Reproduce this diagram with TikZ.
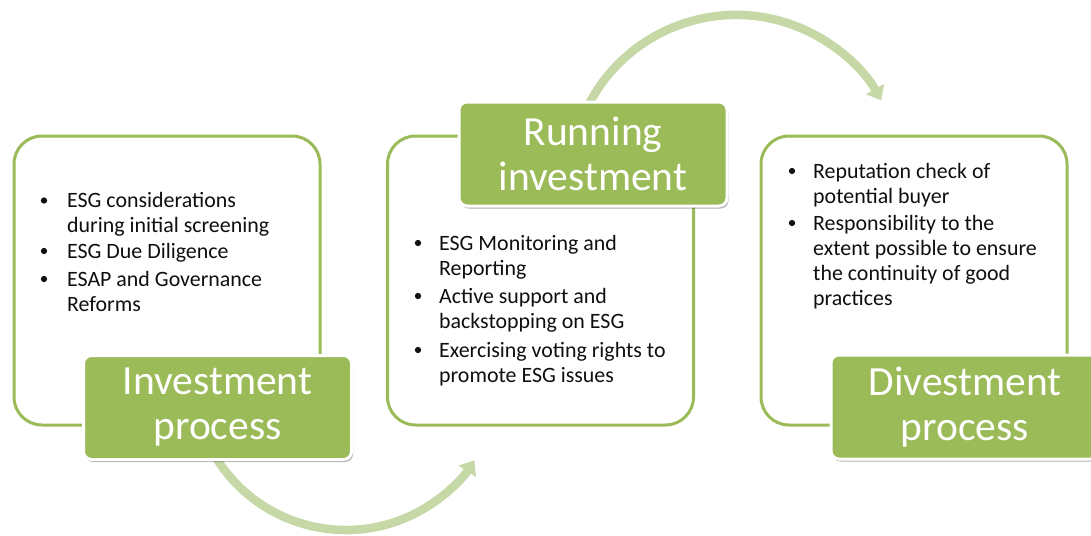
\documentclass[tikz,border=0pt]{standalone}
\usepackage{fontspec}
\setmainfont{Carlito}
\usetikzlibrary{arrows.meta,shadows}
\definecolor{ogreen}{RGB}{155,187,89}
\definecolor{agreen}{RGB}{197,216,166}
\definecolor{txt}{RGB}{15,15,15}
\begin{document}
\begin{tikzpicture}[x=1pt,y=-1pt,
  box/.style={draw=ogreen, line width=3pt, rounded corners=28pt, fill=white,
    minimum width=306pt, minimum height=289pt, inner sep=0pt},
  lab/.style={draw=white, line width=3pt, fill=ogreen, rounded corners=8pt,
    minimum width=268pt, minimum height=104pt, inner sep=0pt, text=white,
    font=\fontsize{41.5}{45}\selectfont, align=center,
    drop shadow={shadow xshift=1.5pt, shadow yshift=-2.5pt, opacity=0.3, fill=black}},
  item/.style={anchor=base west, inner sep=0pt, align=left, text=txt,
    font=\fontsize{21.9}{25}\selectfont},
  dot/.style={circle, fill=txt, minimum size=6.3pt, inner sep=0pt},
  flow/.style={draw=agreen, line width=8.5pt, -{Triangle[width=20pt,length=13pt]}}]
\clip (0,0) rectangle (1091,535);
% boxes
\node[box] (box1) at (167,280.5) {};
\node[box] (box2) at (540.5,280.5) {};
\node[box] (box3) at (914,280.5) {};
% arrows
\coordinate (a1s) at (213.5,453.5);
\coordinate (a2s) at (585.6,110.8);
\draw[flow] (a1s) arc[start angle=150, end angle=33, radius=153];
\draw[flow] (a2s) arc[start angle=205, end angle=331, radius=166];
% labels
\node[lab] (lab1) at (217.5,407.5) {Investment\\process};
\node[lab] (lab2) at (593,154) {Running\\investment};
\node[lab] (lab3) at (965,407) {Divestment\\process};
% items box 1 (base = last line)
\node[item] (t11) at (67,232.5) {ESG considerations\\during initial screening};
\node[item] (t12) at (67,258) {ESG Due Diligence};
\node[item] (t13) at (67,311) {ESAP and Governance\\Reforms};
\node[dot] (b11) at (44,200.5) {};
\node[dot] (b12) at (44,251) {};
\node[dot] (b13) at (44,279) {};
% items box 2
\node[item] (t21) at (439,275) {ESG Monitoring and\\Reporting};
\node[item] (t22) at (439,328) {Active support and\\backstopping on ESG};
\node[item] (t23) at (439,382) {Exercising voting rights to\\promote ESG issues};
\node[dot] (b21) at (418,243) {};
\node[dot] (b22) at (418,296) {};
\node[dot] (b23) at (418,350) {};
% items box 3
\node[item] (t31) at (813,203) {Reputation check of\\potential buyer};
\node[item] (t32) at (813,305) {Responsibility to the\\extent possible to ensure\\the continuity of good\\practices};
\node[dot] (b31) at (792,171) {};
\node[dot] (b32) at (792,223) {};
\end{tikzpicture}
\end{document}
